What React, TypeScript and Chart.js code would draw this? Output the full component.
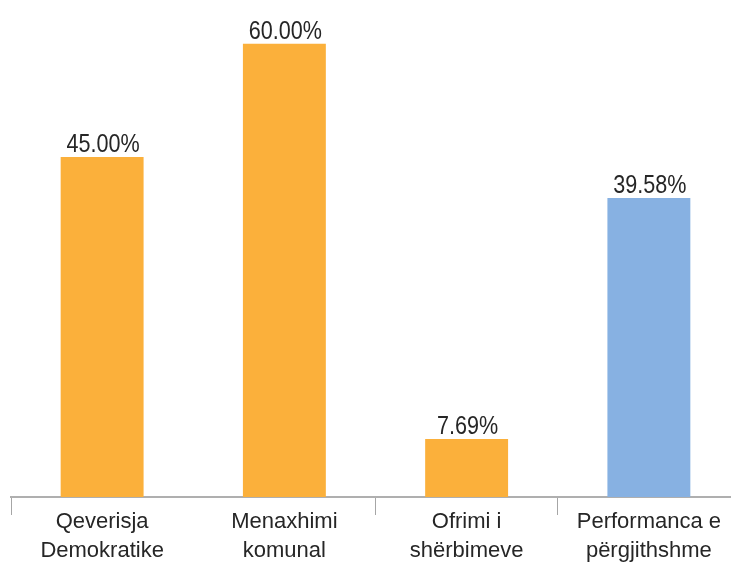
import React, { useEffect, useRef } from "react";
import { Chart, registerables } from "chart.js";

Chart.register(...registerables);

const categories: string[][] = [
  ["Qeverisja", "Demokratike"],
  ["Menaxhimi", "komunal"],
  ["Ofrimi i", "shërbimeve"],
  ["Performanca e", "përgjithshme"],
];
const values: number[] = [45.0, 60.0, 7.69, 39.58];
const barColors: string[] = ["#FBB03B", "#FBB03B", "#FBB03B", "#87B1E2"];

const valueLabels = {
  id: "valueLabels",
  afterDatasetsDraw(chart: any) {
    const ctx = chart.ctx;
    const meta = chart.getDatasetMeta(0);
    meta.data.forEach((bar: any, i: number) => {
      ctx.save();
      ctx.font = '26px "Liberation Sans", Arial, sans-serif';
      ctx.fillStyle = "#262626";
      ctx.textAlign = "center";
      ctx.textBaseline = "alphabetic";
      ctx.translate(bar.x + 1, bar.y - 5);
      ctx.scale(0.83, 1);
      ctx.fillText(values[i].toFixed(2) + "%", 0, 0);
      ctx.restore();
    });
  },
};

export default function App() {
  const ref = useRef<HTMLCanvasElement | null>(null);
  useEffect(() => {
    if (!ref.current) return;
    const chart = new Chart(ref.current, {
      type: "bar",
      data: {
        labels: categories,
        datasets: [
          {
            data: values,
            backgroundColor: barColors,
            borderWidth: 0,
            categoryPercentage: 1,
            barPercentage: 0.455,
          },
        ],
      },
      options: {
        responsive: false,
        animation: false,
        devicePixelRatio: 1,
        layout: { padding: { top: 6, left: 11, right: 10, bottom: 0 } },
        plugins: { legend: { display: false }, tooltip: { enabled: false } },
        scales: {
          y: { display: false, min: 0, max: 65 },
          x: {
            offset: true,
            afterFit: (s: any) => {
              s.height = 66;
            },
            border: { display: true, color: "#AFAFAF", width: 2 },
            grid: {
              offset: true,
              drawOnChartArea: false,
              drawTicks: true,
              tickLength: 18,
              lineWidth: 1,
              tickColor: (c: any) => (c.index === 1 ? "rgba(0,0,0,0)" : "#A6A6A6"),
            },
            ticks: {
              padding: -8,
              color: "#262626",
              font: { family: '"Liberation Sans", Arial, sans-serif', size: 22, lineHeight: 1.32 },
              maxRotation: 0,
              autoSkip: false,
            },
          },
        },
      },
      plugins: [valueLabels],
    });
    return () => chart.destroy();
  }, []);
  return (
    <div style={{ position: "absolute", left: 0, top: 0, width: 731, height: 563, overflow: "hidden", background: "#fff" }}>
      <canvas ref={ref} width={750} height={563} style={{ width: 750, height: 563, display: "block" }} />
    </div>
  );
}
